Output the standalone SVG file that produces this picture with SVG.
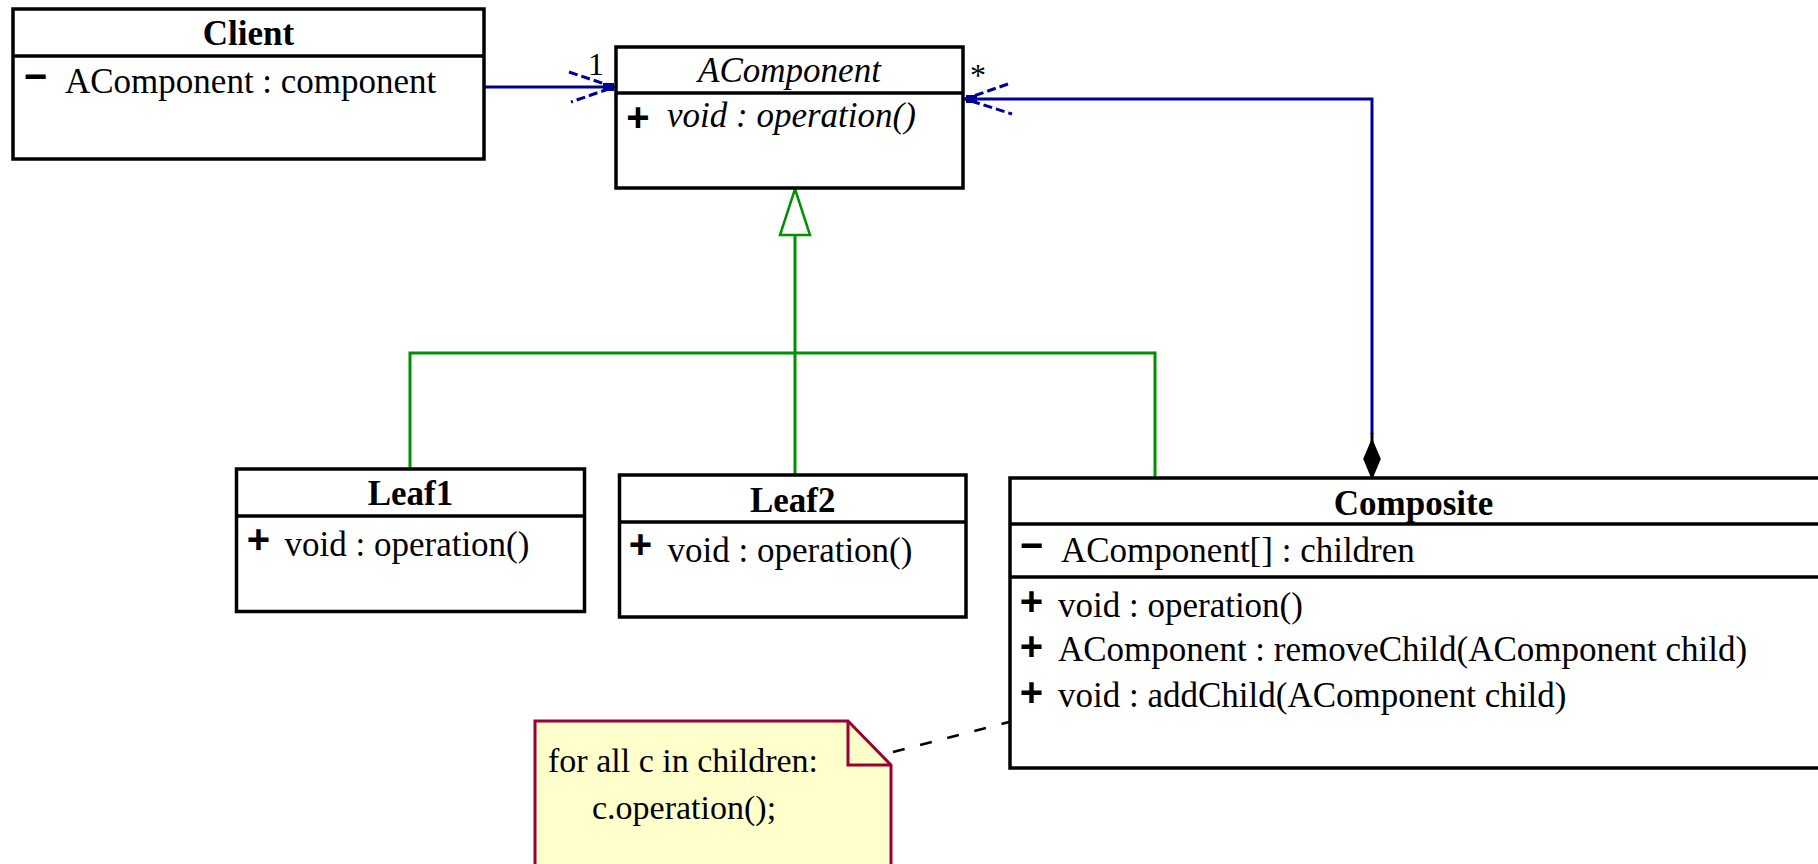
<svg xmlns="http://www.w3.org/2000/svg" width="1818" height="864" viewBox="0 0 1818 864">
<style>
.box{fill:#ffffff;stroke:#000000;stroke-width:3.5}
.div{stroke:#000000;stroke-width:3.5}
.t{font-family:"Liberation Serif","Times New Roman",serif;font-size:35px;fill:#000}
.nt{font-family:"Liberation Serif","Times New Roman",serif;font-size:34px;fill:#000}
.title{font-weight:bold;text-anchor:middle}
.it{font-style:italic}
.vis{font-family:"Liberation Sans",Arial,sans-serif;font-weight:bold;font-size:40px;text-anchor:middle;fill:#000}
.blue{stroke:#000099;stroke-width:3;fill:none}
.barb{stroke:#000099;stroke-width:3;fill:none;stroke-dasharray:9 4}
.green{stroke:#009000;stroke-width:3;fill:none}
.note{fill:#ffffcc;stroke:#990033;stroke-width:3}
.mult{font-family:"Liberation Serif","Times New Roman",serif;font-size:32px;fill:#000}
</style>
<rect width="1818" height="864" fill="#ffffff"/>

<g id="connectors">
  <!-- Client to AComponent -->
  <line class="blue" x1="484" y1="87" x2="614" y2="87"/>
  <polyline class="barb" points="569,72 614,87 571,102"/>
  <rect x="603" y="83" width="11" height="8" fill="#000099"/>
  <text class="mult" x="596" y="75" text-anchor="middle">1</text>
  <!-- Composite aggregation to AComponent -->
  <polyline class="blue" points="965,99 1372,99 1372,434"/>
  <polyline class="barb" points="1008,84 965,99 1012,114"/>
  <rect x="966" y="95" width="11" height="8" fill="#000099"/>
  <text class="mult" x="970" y="86">*</text>
  <line x1="1372" y1="433" x2="1372" y2="442" stroke="#000" stroke-width="3"/>
  <polygon points="1372,440 1380,459 1372,478 1364,459" fill="#000" stroke="#000" stroke-width="1.5"/>
  <!-- generalization -->
  <polyline class="green" points="410,469 410,353 1155,353 1155,478"/>
  <line class="green" x1="795" y1="235" x2="795" y2="475"/>
  <polygon points="795,189 810,235 780,235" fill="#ffffff" stroke="#009000" stroke-width="2.5"/>
  <!-- note link -->
  <line x1="893" y1="752" x2="1009" y2="722" stroke="#000" stroke-width="2.5" stroke-dasharray="12 16"/>
</g>

<g id="client">
  <rect class="box" x="13" y="9" width="471" height="150"/>
  <line class="div" x1="13" y1="56" x2="484" y2="56"/>
  <text class="t title" x="248.5" y="45">Client</text>
  <text class="vis" x="35.5" y="90">−</text>
  <text class="t" x="65" y="93">AComponent : component</text>
</g>

<g id="acomponent">
  <rect class="box" x="616" y="47" width="347" height="141"/>
  <line class="div" x1="616" y1="93" x2="963" y2="93"/>
  <text class="t it" x="789.5" y="82" text-anchor="middle">AComponent</text>
  <text class="vis" x="638" y="131">+</text>
  <text class="t it" x="667" y="127">void : operation()</text>
</g>

<g id="leaf1">
  <rect class="box" x="236.5" y="469" width="348" height="142.5"/>
  <line class="div" x1="236.5" y1="516" x2="584.5" y2="516"/>
  <text class="t title" x="410.5" y="505">Leaf1</text>
  <text class="vis" x="258.5" y="553">+</text>
  <text class="t" x="284.5" y="556">void : operation()</text>
</g>

<g id="leaf2">
  <rect class="box" x="619.5" y="475" width="346.5" height="142"/>
  <line class="div" x1="619.5" y1="522" x2="966" y2="522"/>
  <text class="t title" x="792.7" y="511.5">Leaf2</text>
  <text class="vis" x="640.5" y="558">+</text>
  <text class="t" x="667.5" y="561.5">void : operation()</text>
</g>

<g id="composite">
  <rect class="box" x="1010" y="478" width="840" height="290"/>
  <line class="div" x1="1010" y1="524" x2="1850" y2="524"/>
  <line class="div" x1="1010" y1="577" x2="1850" y2="577"/>
  <text class="t title" x="1413.5" y="515">Composite</text>
  <text class="vis" x="1031.5" y="559">−</text>
  <text class="t" x="1061" y="562">AComponent[] : children</text>
  <text class="vis" x="1031.5" y="615">+</text>
  <text class="t" x="1058" y="616.5">void : operation()</text>
  <text class="vis" x="1031.5" y="660">+</text>
  <text class="t" x="1058" y="661">AComponent : removeChild(AComponent child)</text>
  <text class="vis" x="1031.5" y="706">+</text>
  <text class="t" x="1058" y="707">void : addChild(AComponent child)</text>
</g>

<g id="note">
  <path class="note" d="M535,721 H848 L891,765 V872 H535 Z"/>
  <polyline points="848,721 848,765 891,765" fill="none" stroke="#990033" stroke-width="3"/>
  <text class="nt" x="548" y="771.5">for all c in children:</text>
  <text class="nt" x="592" y="819">c.operation();</text>
</g>
</svg>
